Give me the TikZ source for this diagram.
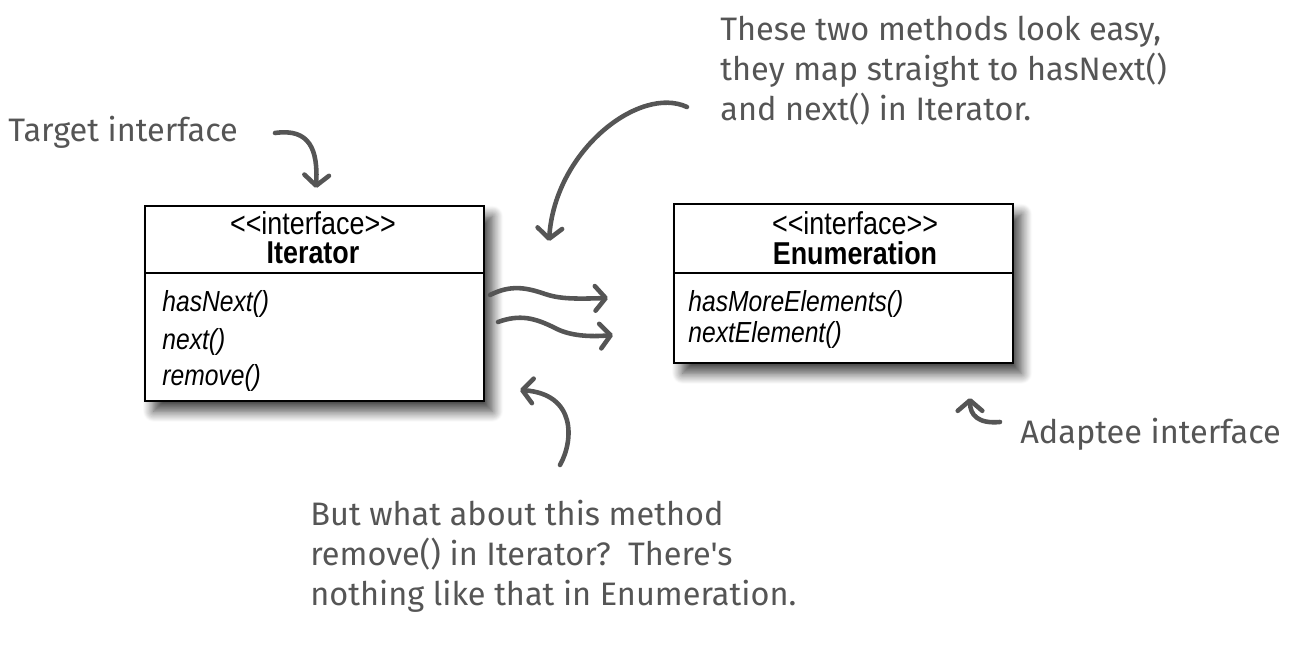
\documentclass[tikz,border=0pt]{standalone}
\usepackage{fontspec}
\setmainfont{Liberation Sans}
\newfontfamily\umlfont{Liberation Sans}[FakeStretch=0.85]
\newfontfamily\handfont{Fira Sans}
\usetikzlibrary{arrows.meta,shadows.blur}
\definecolor{pencil}{HTML}{555555}

\tikzset{
  umlbox/.style={draw=black, line width=0.9pt, fill=white, anchor=north west, inner sep=0pt,
    blur shadow={shadow xshift=5pt, shadow yshift=-6pt, shadow blur radius=6pt,
      shadow blur steps=12, shadow opacity=75}},
  stereo/.style={font=\umlfont\fontsize{18}{18}\selectfont, anchor=base, inner sep=0pt},
  classname/.style={font=\umlfont\bfseries\fontsize{18}{18}\selectfont, anchor=base, inner sep=0pt},
  method/.style={font=\umlfont\itshape\fontsize{16.5}{16.5}\selectfont, anchor=base west, inner sep=0pt},
  note/.style={font=\handfont\fontsize{18.5}{22.7}\selectfont, text=pencil, align=left,
    anchor=north west, inner sep=0pt},
  scribble/.style={draw=pencil, line width=2.6pt, line cap=round,
    -{Straight Barb[length=6pt,width=14pt,round]}},
}

\begin{document}
\begin{tikzpicture}[x=0.02cm, y=-0.02cm]
  \useasboundingbox (0,0) rectangle (1308,648);

  % Iterator class
  \node[umlbox, minimum width=6.78cm, minimum height=3.9cm] (iterBox) at (144,205) {};
  \draw[line width=0.9pt] (iterBox.west |- 0,273) -- (iterBox.east |- 0,273);
  \node[stereo] (iterStereo) at (313,235) {<\kern0pt<interface>\kern0pt>};
  \node[classname] (iterName) at (313,264) {Iterator};
  \foreach \m/\y [count=\i] in {hasNext()/312, next()/350, remove()/385}
    \node[method] (iterM\i) at (162,\y) {\m};

  % Enumeration class
  \node[umlbox, minimum width=6.78cm, minimum height=3.18cm] (enumBox) at (673,203) {};
  \draw[line width=0.9pt] (enumBox.west |- 0,273) -- (enumBox.east |- 0,273);
  \node[stereo] (enumStereo) at (855,235) {<\kern0pt<interface>\kern0pt>};
  \node[classname] (enumName) at (855,265) {Enumeration};
  \foreach \m/\y [count=\i] in {hasMoreElements()/312, nextElement()/343}
    \node[method] (enumM\i) at (688,\y) {\m};

  % Notes
  \node[note] (targetNote) at (8,116) {Target interface};
  \node[note] (easyNote) at (720,16)
    {These two methods look easy,\\they map straight to hasNext()\\and next() in Iterator.};
  \node[note] (removeNote) at (310,500)
    {But what about this method\\remove() in Iterator?\ \ There's\\nothing like that in Enumeration.};
  \node[note] (adapteeNote) at (1020,418) {Adaptee interface};

  % Scribbled arrows
  \coordinate (targetTail) at (275,133);
  \coordinate (targetTip) at (316,188);
  \draw[scribble] (targetTail) .. controls (310,128) and (318,150) .. (targetTip);

  \coordinate (easyTail) at (687,107);
  \coordinate (easyTip) at (549,241);
  \draw[scribble] (easyTail) .. controls (640,85) and (555,150) .. (easyTip);

  \coordinate (removeTail) at (560,465);
  \coordinate (removeTip) at (520,390);
  \draw[scribble] (removeTail) .. controls (574,440) and (576,394) .. (removeTip);

  \coordinate (adapteeTail) at (1000,422);
  \coordinate (adapteeTip) at (970,398);
  \draw[scribble] (adapteeTail) .. controls (978,424) and (970,415) .. (adapteeTip);

  % hasNext -> hasMoreElements, next -> nextElement
  \coordinate (mapTailA) at (490,295);
  \coordinate (mapTipA) at (608,298);
  \draw[scribble] (mapTailA) .. controls (510,285) and (525,287) .. (545,294)
    .. controls (560,299) and (575,299) .. (mapTipA);
  \coordinate (mapTailB) at (498,322);
  \coordinate (mapTipB) at (613,335);
  \draw[scribble] (mapTailB) .. controls (520,314) and (535,318) .. (555,328)
    .. controls (570,336) and (590,337) .. (mapTipB);
\end{tikzpicture}
\end{document}
